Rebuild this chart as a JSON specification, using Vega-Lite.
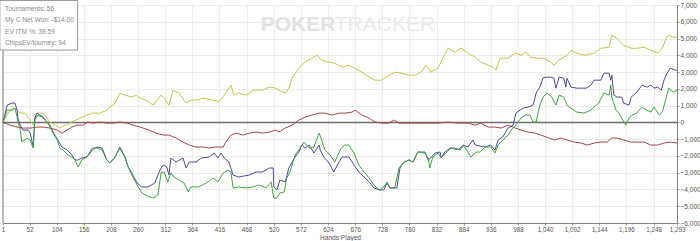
{
"$schema": "https://vega.github.io/schema/vega-lite/v6.json",
"width": 674, "height": 218,
"autosize": {"type": "none"},
"padding": {"left": 3, "top": 5, "right": 23, "bottom": 18},
"background": "white",
"config": {"view": {"stroke": null}, "font": "Liberation Sans"},
"datasets": {
"lines": [
{"s":"Y","h":1,"v":0},{"s":"Y","h":14,"v":732},{"s":"Y","h":24,"v":851},{"s":"Y","h":34,"v":554},{"s":"Y","h":43,"v":554},{"s":"Y","h":53,"v":137},{"s":"Y","h":59,"v":-161},{"s":"Y","h":66,"v":554},{"s":"Y","h":78,"v":554},{"s":"Y","h":91,"v":18},{"s":"Y","h":101,"v":-161},{"s":"Y","h":110,"v":-339},{"s":"Y","h":120,"v":-161},{"s":"Y","h":133,"v":18},{"s":"Y","h":149,"v":256},{"s":"Y","h":162,"v":435},{"s":"Y","h":173,"v":554},{"s":"Y","h":187,"v":554},{"s":"Y","h":200,"v":732},{"s":"Y","h":206,"v":911},{"s":"Y","h":216,"v":1149},{"s":"Y","h":225,"v":1744},{"s":"Y","h":235,"v":1625},{"s":"Y","h":248,"v":1506},{"s":"Y","h":256,"v":1625},{"s":"Y","h":264,"v":1446},{"s":"Y","h":275,"v":1327},{"s":"Y","h":289,"v":1030},{"s":"Y","h":304,"v":1625},{"s":"Y","h":310,"v":1446},{"s":"Y","h":319,"v":1030},{"s":"Y","h":327,"v":1922},{"s":"Y","h":338,"v":1744},{"s":"Y","h":352,"v":1149},{"s":"Y","h":361,"v":1327},{"s":"Y","h":371,"v":1327},{"s":"Y","h":384,"v":1446},{"s":"Y","h":404,"v":1327},{"s":"Y","h":415,"v":1208},{"s":"Y","h":425,"v":1625},{"s":"Y","h":438,"v":2220},{"s":"Y","h":444,"v":1625},{"s":"Y","h":453,"v":1744},{"s":"Y","h":467,"v":1625},{"s":"Y","h":482,"v":1922},{"s":"Y","h":499,"v":1922},{"s":"Y","h":511,"v":2101},{"s":"Y","h":524,"v":2042},{"s":"Y","h":530,"v":1922},{"s":"Y","h":542,"v":1744},{"s":"Y","h":549,"v":2042},{"s":"Y","h":555,"v":2637},{"s":"Y","h":568,"v":3232},{"s":"Y","h":580,"v":3589},{"s":"Y","h":593,"v":3827},{"s":"Y","h":603,"v":4006},{"s":"Y","h":612,"v":3708},{"s":"Y","h":626,"v":3589},{"s":"Y","h":637,"v":3530},{"s":"Y","h":651,"v":3292},{"s":"Y","h":664,"v":3411},{"s":"Y","h":676,"v":3232},{"s":"Y","h":689,"v":2994},{"s":"Y","h":703,"v":2696},{"s":"Y","h":714,"v":2518},{"s":"Y","h":727,"v":2518},{"s":"Y","h":741,"v":2815},{"s":"Y","h":752,"v":2994},{"s":"Y","h":766,"v":2934},{"s":"Y","h":779,"v":2815},{"s":"Y","h":791,"v":2815},{"s":"Y","h":802,"v":2994},{"s":"Y","h":812,"v":3411},{"s":"Y","h":821,"v":2994},{"s":"Y","h":835,"v":3232},{"s":"Y","h":844,"v":3827},{"s":"Y","h":854,"v":4422},{"s":"Y","h":867,"v":4184},{"s":"Y","h":879,"v":4422},{"s":"Y","h":892,"v":4125},{"s":"Y","h":906,"v":3887},{"s":"Y","h":917,"v":3589},{"s":"Y","h":931,"v":3411},{"s":"Y","h":940,"v":3292},{"s":"Y","h":946,"v":3113},{"s":"Y","h":954,"v":3827},{"s":"Y","h":969,"v":3827},{"s":"Y","h":983,"v":4125},{"s":"Y","h":994,"v":4006},{"s":"Y","h":1003,"v":4184},{"s":"Y","h":1013,"v":3887},{"s":"Y","h":1026,"v":3827},{"s":"Y","h":1038,"v":3827},{"s":"Y","h":1051,"v":3589},{"s":"Y","h":1057,"v":3411},{"s":"Y","h":1067,"v":3708},{"s":"Y","h":1082,"v":4006},{"s":"Y","h":1090,"v":4303},{"s":"Y","h":1101,"v":4125},{"s":"Y","h":1115,"v":4006},{"s":"Y","h":1134,"v":4125},{"s":"Y","h":1147,"v":4422},{"s":"Y","h":1163,"v":4482},{"s":"Y","h":1168,"v":5196},{"s":"Y","h":1178,"v":5018},{"s":"Y","h":1191,"v":4601},{"s":"Y","h":1205,"v":4422},{"s":"Y","h":1216,"v":4422},{"s":"Y","h":1230,"v":4482},{"s":"Y","h":1243,"v":4303},{"s":"Y","h":1256,"v":4125},{"s":"Y","h":1265,"v":4422},{"s":"Y","h":1272,"v":5018},{"s":"Y","h":1277,"v":5196},{"s":"Y","h":1286,"v":5077},{"s":"Y","h":1293,"v":5077},
{"s":"R","h":1,"v":0},{"s":"R","h":14,"v":-161},{"s":"R","h":28,"v":-280},{"s":"R","h":39,"v":-339},{"s":"R","h":53,"v":-339},{"s":"R","h":66,"v":-280},{"s":"R","h":78,"v":-280},{"s":"R","h":91,"v":-339},{"s":"R","h":105,"v":-458},{"s":"R","h":114,"v":-637},{"s":"R","h":124,"v":-458},{"s":"R","h":133,"v":-280},{"s":"R","h":143,"v":-161},{"s":"R","h":154,"v":-161},{"s":"R","h":164,"v":18},{"s":"R","h":173,"v":-42},{"s":"R","h":187,"v":18},{"s":"R","h":200,"v":-42},{"s":"R","h":212,"v":-42},{"s":"R","h":225,"v":18},{"s":"R","h":239,"v":-42},{"s":"R","h":250,"v":-161},{"s":"R","h":264,"v":-280},{"s":"R","h":281,"v":-458},{"s":"R","h":294,"v":-637},{"s":"R","h":308,"v":-756},{"s":"R","h":319,"v":-756},{"s":"R","h":333,"v":-934},{"s":"R","h":346,"v":-1173},{"s":"R","h":358,"v":-1351},{"s":"R","h":371,"v":-1470},{"s":"R","h":384,"v":-1470},{"s":"R","h":396,"v":-1530},{"s":"R","h":409,"v":-1470},{"s":"R","h":423,"v":-1470},{"s":"R","h":428,"v":-1173},{"s":"R","h":438,"v":-756},{"s":"R","h":448,"v":-637},{"s":"R","h":461,"v":-756},{"s":"R","h":473,"v":-637},{"s":"R","h":486,"v":-577},{"s":"R","h":499,"v":-637},{"s":"R","h":511,"v":-577},{"s":"R","h":524,"v":-458},{"s":"R","h":530,"v":-577},{"s":"R","h":542,"v":-339},{"s":"R","h":555,"v":-161},{"s":"R","h":568,"v":137},{"s":"R","h":580,"v":315},{"s":"R","h":593,"v":435},{"s":"R","h":607,"v":554},{"s":"R","h":618,"v":554},{"s":"R","h":632,"v":435},{"s":"R","h":645,"v":554},{"s":"R","h":657,"v":554},{"s":"R","h":670,"v":613},{"s":"R","h":676,"v":732},{"s":"R","h":689,"v":435},{"s":"R","h":703,"v":256},{"s":"R","h":714,"v":18},{"s":"R","h":727,"v":-42},{"s":"R","h":741,"v":-42},{"s":"R","h":750,"v":137},{"s":"R","h":760,"v":-42},{"s":"R","h":777,"v":-42},{"s":"R","h":796,"v":-42},{"s":"R","h":816,"v":-42},{"s":"R","h":835,"v":-42},{"s":"R","h":854,"v":18},{"s":"R","h":873,"v":-42},{"s":"R","h":892,"v":-42},{"s":"R","h":906,"v":-161},{"s":"R","h":917,"v":-42},{"s":"R","h":931,"v":-280},{"s":"R","h":944,"v":-280},{"s":"R","h":956,"v":-339},{"s":"R","h":969,"v":-161},{"s":"R","h":983,"v":-339},{"s":"R","h":994,"v":-458},{"s":"R","h":1007,"v":-577},{"s":"R","h":1021,"v":-637},{"s":"R","h":1032,"v":-756},{"s":"R","h":1048,"v":-934},{"s":"R","h":1057,"v":-1053},{"s":"R","h":1071,"v":-934},{"s":"R","h":1082,"v":-1053},{"s":"R","h":1096,"v":-1173},{"s":"R","h":1109,"v":-1232},{"s":"R","h":1121,"v":-1351},{"s":"R","h":1134,"v":-1232},{"s":"R","h":1147,"v":-1173},{"s":"R","h":1159,"v":-1173},{"s":"R","h":1168,"v":-934},{"s":"R","h":1178,"v":-934},{"s":"R","h":1191,"v":-1053},{"s":"R","h":1205,"v":-1173},{"s":"R","h":1216,"v":-1173},{"s":"R","h":1230,"v":-1173},{"s":"R","h":1243,"v":-1351},{"s":"R","h":1256,"v":-1351},{"s":"R","h":1268,"v":-1232},{"s":"R","h":1280,"v":-1173},{"s":"R","h":1293,"v":-1232},
{"s":"B","h":1,"v":0},{"s":"B","h":9,"v":1030},{"s":"B","h":18,"v":1149},{"s":"B","h":24,"v":1149},{"s":"B","h":28,"v":732},{"s":"B","h":30,"v":137},{"s":"B","h":36,"v":-280},{"s":"B","h":39,"v":-458},{"s":"B","h":49,"v":-458},{"s":"B","h":53,"v":-637},{"s":"B","h":59,"v":-1470},{"s":"B","h":62,"v":256},{"s":"B","h":66,"v":554},{"s":"B","h":78,"v":315},{"s":"B","h":85,"v":18},{"s":"B","h":91,"v":-161},{"s":"B","h":97,"v":-577},{"s":"B","h":106,"v":-1053},{"s":"B","h":114,"v":-1470},{"s":"B","h":124,"v":-1649},{"s":"B","h":133,"v":-1946},{"s":"B","h":139,"v":-2244},{"s":"B","h":145,"v":-2244},{"s":"B","h":152,"v":-2125},{"s":"B","h":162,"v":-2065},{"s":"B","h":172,"v":-1649},{"s":"B","h":181,"v":-1470},{"s":"B","h":191,"v":-1530},{"s":"B","h":200,"v":-2244},{"s":"B","h":206,"v":-2422},{"s":"B","h":216,"v":-2065},{"s":"B","h":225,"v":-1470},{"s":"B","h":235,"v":-2065},{"s":"B","h":241,"v":-2661},{"s":"B","h":248,"v":-3018},{"s":"B","h":258,"v":-3613},{"s":"B","h":267,"v":-3851},{"s":"B","h":279,"v":-3851},{"s":"B","h":292,"v":-3613},{"s":"B","h":302,"v":-2839},{"s":"B","h":308,"v":-2541},{"s":"B","h":315,"v":-2661},{"s":"B","h":319,"v":-3137},{"s":"B","h":323,"v":-2125},{"s":"B","h":333,"v":-2363},{"s":"B","h":346,"v":-2125},{"s":"B","h":352,"v":-2720},{"s":"B","h":358,"v":-2363},{"s":"B","h":371,"v":-2363},{"s":"B","h":381,"v":-2125},{"s":"B","h":396,"v":-2065},{"s":"B","h":406,"v":-1827},{"s":"B","h":413,"v":-2125},{"s":"B","h":419,"v":-1827},{"s":"B","h":425,"v":-2125},{"s":"B","h":434,"v":-2363},{"s":"B","h":442,"v":-3137},{"s":"B","h":453,"v":-3256},{"s":"B","h":473,"v":-3137},{"s":"B","h":486,"v":-2958},{"s":"B","h":499,"v":-2958},{"s":"B","h":511,"v":-2720},{"s":"B","h":519,"v":-2720},{"s":"B","h":520,"v":-3851},{"s":"B","h":526,"v":-4029},{"s":"B","h":532,"v":-3434},{"s":"B","h":542,"v":-3553},{"s":"B","h":549,"v":-2720},{"s":"B","h":555,"v":-2363},{"s":"B","h":561,"v":-2065},{"s":"B","h":568,"v":-1768},{"s":"B","h":574,"v":-1351},{"s":"B","h":580,"v":-1530},{"s":"B","h":588,"v":-1351},{"s":"B","h":597,"v":-1827},{"s":"B","h":607,"v":-1351},{"s":"B","h":609,"v":-1649},{"s":"B","h":616,"v":-2065},{"s":"B","h":626,"v":-2422},{"s":"B","h":635,"v":-2958},{"s":"B","h":645,"v":-2363},{"s":"B","h":651,"v":-2065},{"s":"B","h":664,"v":-2065},{"s":"B","h":674,"v":-2541},{"s":"B","h":683,"v":-2958},{"s":"B","h":693,"v":-3256},{"s":"B","h":703,"v":-3553},{"s":"B","h":712,"v":-3910},{"s":"B","h":722,"v":-4029},{"s":"B","h":731,"v":-4029},{"s":"B","h":737,"v":-3613},{"s":"B","h":743,"v":-3910},{"s":"B","h":756,"v":-3910},{"s":"B","h":762,"v":-2720},{"s":"B","h":770,"v":-2363},{"s":"B","h":779,"v":-2244},{"s":"B","h":787,"v":-2363},{"s":"B","h":796,"v":-1768},{"s":"B","h":810,"v":-1768},{"s":"B","h":816,"v":-2244},{"s":"B","h":821,"v":-2125},{"s":"B","h":829,"v":-1827},{"s":"B","h":839,"v":-1768},{"s":"B","h":841,"v":-2125},{"s":"B","h":848,"v":-1768},{"s":"B","h":858,"v":-1530},{"s":"B","h":867,"v":-1530},{"s":"B","h":877,"v":-1649},{"s":"B","h":883,"v":-1351},{"s":"B","h":892,"v":-1470},{"s":"B","h":902,"v":-1053},{"s":"B","h":906,"v":-1351},{"s":"B","h":925,"v":-1470},{"s":"B","h":936,"v":-1351},{"s":"B","h":944,"v":-1649},{"s":"B","h":950,"v":-1053},{"s":"B","h":959,"v":-875},{"s":"B","h":969,"v":-339},{"s":"B","h":979,"v":-161},{"s":"B","h":984,"v":554},{"s":"B","h":998,"v":851},{"s":"B","h":1007,"v":911},{"s":"B","h":1017,"v":1030},{"s":"B","h":1023,"v":1744},{"s":"B","h":1030,"v":2101},{"s":"B","h":1036,"v":2637},{"s":"B","h":1042,"v":2696},{"s":"B","h":1051,"v":2696},{"s":"B","h":1057,"v":2637},{"s":"B","h":1061,"v":2042},{"s":"B","h":1067,"v":2696},{"s":"B","h":1076,"v":2637},{"s":"B","h":1080,"v":2101},{"s":"B","h":1082,"v":2637},{"s":"B","h":1090,"v":2101},{"s":"B","h":1101,"v":2042},{"s":"B","h":1119,"v":2042},{"s":"B","h":1128,"v":2220},{"s":"B","h":1134,"v":2518},{"s":"B","h":1147,"v":2518},{"s":"B","h":1153,"v":2934},{"s":"B","h":1163,"v":2934},{"s":"B","h":1166,"v":2518},{"s":"B","h":1168,"v":2815},{"s":"B","h":1172,"v":1625},{"s":"B","h":1178,"v":1506},{"s":"B","h":1187,"v":1506},{"s":"B","h":1191,"v":1149},{"s":"B","h":1201,"v":1030},{"s":"B","h":1205,"v":1506},{"s":"B","h":1216,"v":1803},{"s":"B","h":1226,"v":2220},{"s":"B","h":1235,"v":2101},{"s":"B","h":1243,"v":2220},{"s":"B","h":1249,"v":2042},{"s":"B","h":1256,"v":2101},{"s":"B","h":1263,"v":1922},{"s":"B","h":1268,"v":2518},{"s":"B","h":1274,"v":2934},{"s":"B","h":1280,"v":3232},{"s":"B","h":1290,"v":3113},{"s":"B","h":1293,"v":3113},
{"s":"G","h":1,"v":0},{"s":"G","h":9,"v":732},{"s":"G","h":18,"v":732},{"s":"G","h":24,"v":851},{"s":"G","h":28,"v":315},{"s":"G","h":34,"v":-458},{"s":"G","h":37,"v":-1173},{"s":"G","h":47,"v":-934},{"s":"G","h":53,"v":-1053},{"s":"G","h":59,"v":-1530},{"s":"G","h":62,"v":137},{"s":"G","h":68,"v":435},{"s":"G","h":78,"v":256},{"s":"G","h":87,"v":-42},{"s":"G","h":91,"v":-280},{"s":"G","h":97,"v":-637},{"s":"G","h":105,"v":-1053},{"s":"G","h":110,"v":-1530},{"s":"G","h":116,"v":-1649},{"s":"G","h":126,"v":-1946},{"s":"G","h":133,"v":-2065},{"s":"G","h":139,"v":-2244},{"s":"G","h":145,"v":-2661},{"s":"G","h":152,"v":-2244},{"s":"G","h":162,"v":-2065},{"s":"G","h":172,"v":-1530},{"s":"G","h":181,"v":-1530},{"s":"G","h":191,"v":-1649},{"s":"G","h":200,"v":-2244},{"s":"G","h":206,"v":-2422},{"s":"G","h":216,"v":-2065},{"s":"G","h":225,"v":-1530},{"s":"G","h":235,"v":-2125},{"s":"G","h":241,"v":-2661},{"s":"G","h":248,"v":-3137},{"s":"G","h":258,"v":-3732},{"s":"G","h":267,"v":-4208},{"s":"G","h":281,"v":-4446},{"s":"G","h":290,"v":-4506},{"s":"G","h":298,"v":-4327},{"s":"G","h":304,"v":-3018},{"s":"G","h":310,"v":-2958},{"s":"G","h":317,"v":-3553},{"s":"G","h":323,"v":-3018},{"s":"G","h":329,"v":-3256},{"s":"G","h":338,"v":-3434},{"s":"G","h":348,"v":-3613},{"s":"G","h":356,"v":-4148},{"s":"G","h":361,"v":-3851},{"s":"G","h":375,"v":-3851},{"s":"G","h":384,"v":-3732},{"s":"G","h":394,"v":-3553},{"s":"G","h":404,"v":-3315},{"s":"G","h":413,"v":-3553},{"s":"G","h":423,"v":-3018},{"s":"G","h":432,"v":-2839},{"s":"G","h":438,"v":-2958},{"s":"G","h":442,"v":-3910},{"s":"G","h":453,"v":-3851},{"s":"G","h":467,"v":-3910},{"s":"G","h":480,"v":-3851},{"s":"G","h":492,"v":-3732},{"s":"G","h":505,"v":-3910},{"s":"G","h":515,"v":-3553},{"s":"G","h":520,"v":-4506},{"s":"G","h":526,"v":-4506},{"s":"G","h":532,"v":-4208},{"s":"G","h":540,"v":-4148},{"s":"G","h":545,"v":-3315},{"s":"G","h":551,"v":-2958},{"s":"G","h":561,"v":-1946},{"s":"G","h":568,"v":-1649},{"s":"G","h":578,"v":-1173},{"s":"G","h":588,"v":-1530},{"s":"G","h":597,"v":-1470},{"s":"G","h":607,"v":-637},{"s":"G","h":612,"v":-1053},{"s":"G","h":618,"v":-1649},{"s":"G","h":628,"v":-1946},{"s":"G","h":637,"v":-2363},{"s":"G","h":647,"v":-1649},{"s":"G","h":655,"v":-1351},{"s":"G","h":664,"v":-1351},{"s":"G","h":674,"v":-1827},{"s":"G","h":683,"v":-2541},{"s":"G","h":693,"v":-2958},{"s":"G","h":703,"v":-3315},{"s":"G","h":712,"v":-3732},{"s":"G","h":722,"v":-4029},{"s":"G","h":731,"v":-3851},{"s":"G","h":737,"v":-3553},{"s":"G","h":743,"v":-3910},{"s":"G","h":752,"v":-3910},{"s":"G","h":760,"v":-2720},{"s":"G","h":770,"v":-2363},{"s":"G","h":779,"v":-2244},{"s":"G","h":787,"v":-2363},{"s":"G","h":796,"v":-1768},{"s":"G","h":810,"v":-1827},{"s":"G","h":816,"v":-2125},{"s":"G","h":819,"v":-2720},{"s":"G","h":825,"v":-2065},{"s":"G","h":835,"v":-1827},{"s":"G","h":841,"v":-2125},{"s":"G","h":850,"v":-1827},{"s":"G","h":860,"v":-1530},{"s":"G","h":873,"v":-1649},{"s":"G","h":883,"v":-1351},{"s":"G","h":892,"v":-1768},{"s":"G","h":898,"v":-2065},{"s":"G","h":908,"v":-1768},{"s":"G","h":915,"v":-1768},{"s":"G","h":925,"v":-1470},{"s":"G","h":936,"v":-1470},{"s":"G","h":944,"v":-1827},{"s":"G","h":950,"v":-1351},{"s":"G","h":959,"v":-1053},{"s":"G","h":969,"v":-756},{"s":"G","h":975,"v":-458},{"s":"G","h":984,"v":-161},{"s":"G","h":994,"v":256},{"s":"G","h":1002,"v":435},{"s":"G","h":1011,"v":435},{"s":"G","h":1017,"v":18},{"s":"G","h":1023,"v":18},{"s":"G","h":1030,"v":1030},{"s":"G","h":1036,"v":1506},{"s":"G","h":1044,"v":1744},{"s":"G","h":1053,"v":1506},{"s":"G","h":1061,"v":1030},{"s":"G","h":1067,"v":1625},{"s":"G","h":1076,"v":1506},{"s":"G","h":1082,"v":1030},{"s":"G","h":1090,"v":851},{"s":"G","h":1101,"v":613},{"s":"G","h":1115,"v":554},{"s":"G","h":1128,"v":732},{"s":"G","h":1134,"v":911},{"s":"G","h":1143,"v":1149},{"s":"G","h":1153,"v":1744},{"s":"G","h":1163,"v":1625},{"s":"G","h":1166,"v":2220},{"s":"G","h":1168,"v":1506},{"s":"G","h":1176,"v":732},{"s":"G","h":1182,"v":554},{"s":"G","h":1187,"v":256},{"s":"G","h":1195,"v":-161},{"s":"G","h":1201,"v":256},{"s":"G","h":1207,"v":435},{"s":"G","h":1216,"v":554},{"s":"G","h":1226,"v":911},{"s":"G","h":1235,"v":732},{"s":"G","h":1243,"v":613},{"s":"G","h":1249,"v":911},{"s":"G","h":1259,"v":435},{"s":"G","h":1265,"v":613},{"s":"G","h":1272,"v":1446},{"s":"G","h":1277,"v":2042},{"s":"G","h":1286,"v":1803},{"s":"G","h":1293,"v":1922}
],
"frame": [{"h": 1, "v": -6000}, {"h": 1, "v": 7000}],
"zero": [{"h": 1, "v": 0}, {"h": 1293, "v": 0}],
"box": [{"h": -5, "h2": 144, "v": 7270, "v2": 4312}],
"info": [
{"h": 5, "v": 6742, "t": "Tournaments: 56"},
{"h": 5, "v": 6103, "t": "My C Net Won: -$14.00"},
{"h": 5, "v": 5405, "t": "EV ITM %: 39.59"},
{"h": 5, "v": 4748, "t": "ChipsEV/tourney: 94"}
],
"mark1": [{"h": 495, "v": 5450, "t": "POKER"}],
"mark2": [{"h": 637, "v": 5450, "t": "TRACKER"}]
},
"encoding": {
"x": {"field": "h", "type": "quantitative", "scale": {"domain": [1, 1293], "nice": false, "zero": false},
"axis": {"values": [1,52,104,156,208,260,312,364,416,468,520,572,624,676,728,780,832,884,936,988,1040,1092,1144,1196,1248,1293], "format": ",d", "grid": true, "gridColor": "#ececec", "domainColor": "#808080", "tickColor": "#999", "tickSize": 2, "labelFontSize": 6.3, "labelColor": "#555", "labelPadding": 1, "labelOverlap": false, "labelFlush": false, "labelBound": false, "title": "Hands Played", "titleFontSize": 6.6, "titleFontWeight": "normal", "titleColor": "#555", "titlePadding": 2}},
"y": {"field": "v", "type": "quantitative", "scale": {"domain": [-6000, 7000], "nice": false, "zero": false},
"axis": {"orient": "right", "values": [-6000,-5000,-4000,-3000,-2000,-1000,0,1000,2000,3000,4000,5000,6000,7000], "format": ",d", "grid": true, "gridColor": "#ececec", "domainColor": "#808080", "tickColor": "#999", "tickSize": 2, "labelFontSize": 6.6, "labelColor": "#555", "labelPadding": 1, "labelOverlap": false, "labelFlush": false, "labelBound": false, "title": null}}
},
"layer": [
{
"data": {"name": "mark1"},
"mark": {"type": "text", "align": "left", "baseline": "alphabetic", "fontSize": 21, "fontWeight": "bold", "fill": "#e2e2e2"},
"encoding": {"text": {"field": "t"}}
},
{
"data": {"name": "mark2"},
"mark": {"type": "text", "align": "left", "baseline": "alphabetic", "fontSize": 21, "fill": "#ebebeb"},
"encoding": {"text": {"field": "t"}}
},
{
"data": {"name": "frame"},
"mark": {"type": "line", "stroke": "#808080", "strokeWidth": 1},
"encoding": {}
},
{
"data": {"name": "zero"},
"mark": {"type": "line", "stroke": "#6e6e6e", "strokeWidth": 1.5},
"encoding": {}
},
{
"data": {"name": "lines"},
"mark": {"type": "line", "strokeWidth": 1, "interpolate": "linear"},
"encoding": {
"color": {"field": "s", "type": "nominal", "scale": {"domain": ["Y", "R", "B", "G"], "range": ["#c8c44a", "#a94444", "#4a4a9e", "#3fa53f"]}, "legend": null}
}
},
{
"data": {"name": "box"},
"mark": {"type": "rect", "fill": "white", "stroke": "#9a9a9a", "strokeWidth": 1},
"encoding": {
"x2": {"field": "h2"},
"y2": {"field": "v2"}
}
},
{
"data": {"name": "info"},
"mark": {"type": "text", "align": "left", "baseline": "middle", "fontSize": 6.6, "fill": "#8a8a8a"},
"encoding": {"text": {"field": "t"}}
}
]
}
